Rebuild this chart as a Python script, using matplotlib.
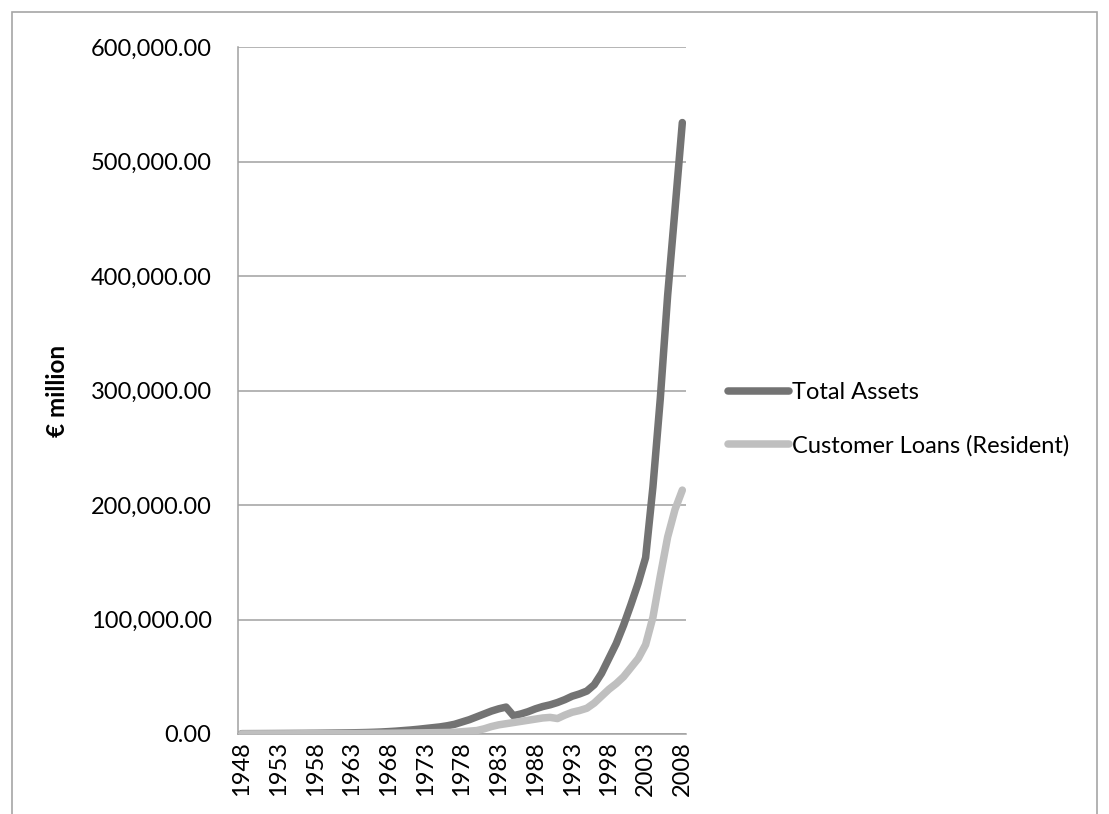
import matplotlib.pyplot as plt
from matplotlib.patches import Rectangle
from matplotlib.ticker import FuncFormatter

plt.rcParams['font.family'] = ['Lato', 'DejaVu Sans']

# years 1948..2008, values in EUR million
years = list(range(1948, 2009))

total_assets = [
    300, 320, 340, 370, 400, 430, 460, 500, 540, 580,      # 1948-1957
    620, 680, 750, 830, 920, 1020, 1150, 1300, 1500, 1750,  # 1958-1967
    2100, 2500, 3000, 3500, 4100, 4800, 5500, 6200, 7200, 8500,  # 1968-1977
    10500, 12500, 15000, 17500, 20000, 22000, 23500, 16000, 17500, 19500,  # 1978-1987
    22000, 24000, 25500, 27500, 30000, 33000, 35000, 37500, 43000, 53000,  # 1988-1997
    66000, 79000, 95000, 113000, 132000, 154000, 216000, 293000, 383000, 458000,  # 1998-2007
    534000,  # 2008
]

customer_loans = [
    100, 110, 120, 130, 140, 150, 160, 180, 200, 220,  # 1948-1957
    240, 260, 290, 320, 350, 390, 430, 480, 530, 590,  # 1958-1967
    650, 720, 800, 880, 960, 1050, 1150, 1250, 1350, 1500,  # 1968-1977
    2000, 2500, 3000, 4500, 6500, 8000, 9000, 10000, 11000, 12000,  # 1978-1987
    13000, 14000, 14500, 13500, 16500, 19000, 20500, 22500, 27000, 33000,  # 1988-1997
    39000, 44000, 50000, 58000, 66000, 78000, 102000, 138000, 172000, 196000,  # 1998-2007
    213000,  # 2008
]

tick_years = list(range(1948, 2009, 5))

W, H = 1109, 814
fig = plt.figure(figsize=(W / 100, H / 100), dpi=100)
fig.patch.set_facecolor('white')

# outer chart border (cut at bottom)
fig.patches.append(Rectangle((12 / W, -0.2), (1097 - 12) / W, 0.2 + 1 - 12 / H,
                             transform=fig.transFigure, fill=False,
                             edgecolor='#a6a6a6', linewidth=1.2))

ax = fig.add_axes([238 / W, 1 - 734 / H, (686 - 238) / W, (734 - 47) / H])

ax.plot(years, total_assets, color='#737373', linewidth=5.4,
        solid_capstyle='round', solid_joinstyle='round', label='Total Assets', zorder=3)
ax.plot(years, customer_loans, color='#bfbfbf', linewidth=5.4,
        solid_capstyle='round', solid_joinstyle='round', label='Customer Loans (Resident)', zorder=3)

ax.set_xlim(1947.5, 2008.5)
ax.set_ylim(0, 600000)
ax.set_yticks(range(0, 600001, 100000))
ax.yaxis.set_major_formatter(FuncFormatter(lambda v, p: '{:,.2f}'.format(v)))
ax.set_xticks(tick_years)
ax.set_xticklabels([str(y) for y in tick_years], rotation=90)

ax.grid(axis='y', color='#a0a0a0', linewidth=1.1)
ax.set_axisbelow(True)
for s in ['top', 'right']:
    ax.spines[s].set_visible(False)
for s in ['left', 'bottom']:
    ax.spines[s].set_color('#a0a0a0')
    ax.spines[s].set_linewidth(1.1)

ax.tick_params(axis='y', length=0, pad=19, labelsize=17)
ax.tick_params(axis='x', length=0, pad=5, labelsize=17)

ax.set_ylabel('€ million', fontsize=17.5, fontweight='bold')
ax.yaxis.set_label_coords(-0.377, 0.5)

fig.legend(loc='center left', bbox_to_anchor=(728 / W, 1 - 419 / H),
           frameon=False, fontsize=17, handlelength=2.6, handletextpad=0.1,
           labelspacing=1.35, borderpad=0, borderaxespad=0)

fig.savefig('out.png', dpi=100, facecolor='white')
